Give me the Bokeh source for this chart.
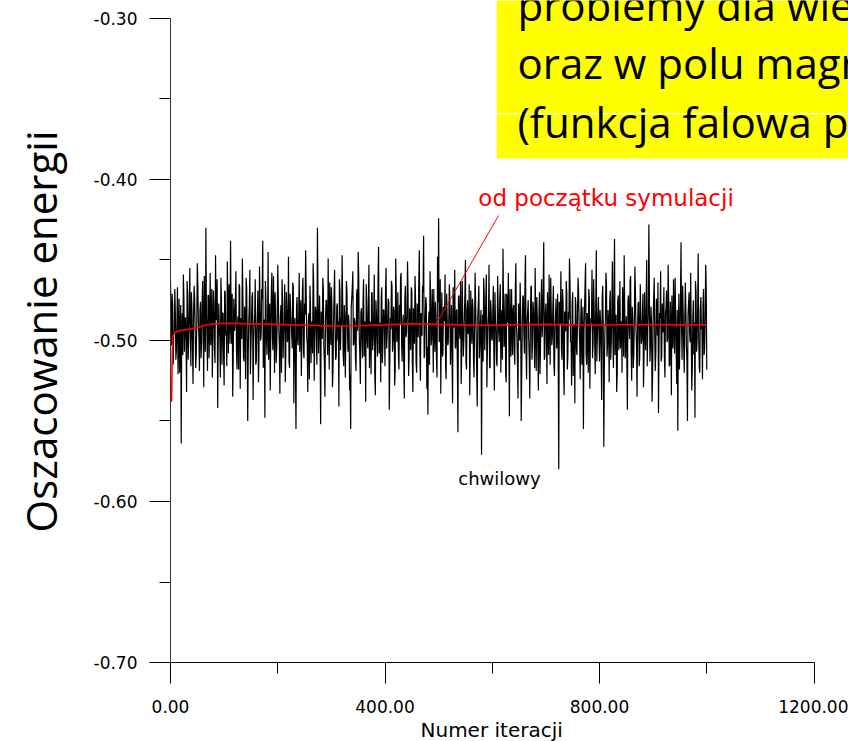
from bokeh.plotting import figure
from bokeh.models import (Range1d, FixedTicker, NumeralTickFormatter, Label,
                          BoxAnnotation, ColumnDataSource, Title)
from bokeh.embed import file_html
from bokeh.resources import INLINE

# ---------------- data ----------------
# instantaneous energy estimate ("chwilowy") at even iterations 0..1000
energy_even = [
    -0.462, -0.503, -0.478, -0.497, -0.468, -0.512, -0.489, -0.521, -0.474, -0.495,
    -0.564, -0.483, -0.459, -0.507, -0.486, -0.532, -0.471, -0.498, -0.455, -0.516,
    -0.481, -0.527, -0.466, -0.493, -0.509, -0.452, -0.488, -0.519, -0.476, -0.501,
    -0.463, -0.529, -0.484, -0.430, -0.496, -0.472, -0.511, -0.458, -0.491, -0.523,
    -0.469, -0.505, -0.447, -0.487, -0.542, -0.477, -0.499, -0.461, -0.515, -0.483,
    -0.528, -0.470, -0.494, -0.451, -0.508, -0.480, -0.438, -0.502, -0.535, -0.474,
    -0.492, -0.457, -0.518, -0.485, -0.465, -0.530, -0.497, -0.449, -0.510, -0.479,
    -0.524, -0.467, -0.550, -0.488, -0.456, -0.504, -0.473, -0.537, -0.490, -0.462,
    -0.513, -0.482, -0.526, -0.454, -0.500, -0.468, -0.438, -0.495, -0.548, -0.476,
    -0.509, -0.445, -0.486, -0.531, -0.471, -0.498, -0.460, -0.520, -0.484, -0.506,
    -0.453, -0.493, -0.533, -0.478, -0.462, -0.511, -0.489, -0.526, -0.470, -0.501,
    -0.448, -0.517, -0.481, -0.496, -0.464, -0.539, -0.486, -0.555, -0.473, -0.503,
    -0.458, -0.491, -0.522, -0.469, -0.507, -0.477, -0.444, -0.498, -0.532, -0.483,
    -0.466, -0.514, -0.488, -0.452, -0.525, -0.479, -0.499, -0.430, -0.508, -0.472,
    -0.552, -0.487, -0.461, -0.504, -0.535, -0.475, -0.494, -0.449, -0.518, -0.482,
    -0.467, -0.529, -0.490, -0.456, -0.512, -0.479, -0.500, -0.541, -0.470, -0.486,
    -0.447, -0.509, -0.478, -0.523, -0.463, -0.495, -0.484, -0.531, -0.555, -0.474,
    -0.457, -0.502, -0.489, -0.519, -0.468, -0.445, -0.497, -0.527, -0.480, -0.511,
    -0.462, -0.493, -0.538, -0.476, -0.505, -0.453, -0.488, -0.521, -0.471, -0.499,
    -0.459, -0.534, -0.483, -0.510, -0.442, -0.492, -0.526, -0.467, -0.503, -0.481,
    -0.516, -0.455, -0.497, -0.474, -0.543, -0.486, -0.463, -0.507, -0.479, -0.528,
    -0.449, -0.501, -0.470, -0.518, -0.490, -0.458, -0.513, -0.484, -0.536, -0.466,
    -0.495, -0.451, -0.522, -0.480, -0.506, -0.469, -0.532, -0.488, -0.460, -0.514,
    -0.477, -0.498, -0.444, -0.525, -0.485, -0.466, -0.435, -0.509, -0.473, -0.530,
    -0.546, -0.482, -0.457, -0.503, -0.468, -0.520, -0.491, -0.476, -0.512, -0.448,
    -0.424, -0.497, -0.533, -0.470, -0.508, -0.483, -0.459, -0.524, -0.487, -0.501,
    -0.465, -0.515, -0.478, -0.539, -0.492, -0.456, -0.505, -0.481, -0.557, -0.472,
    -0.499, -0.527, -0.463, -0.510, -0.486, -0.450, -0.518, -0.475, -0.494, -0.534,
    -0.469, -0.502, -0.480, -0.523, -0.458, -0.496, -0.541, -0.477, -0.511, -0.488,
    -0.571, -0.484, -0.461, -0.506, -0.473, -0.529, -0.490, -0.453, -0.517, -0.482,
    -0.500, -0.466, -0.531, -0.487, -0.513, -0.460, -0.495, -0.474, -0.520, -0.481,
    -0.443, -0.504, -0.471, -0.526, -0.489, -0.458, -0.547, -0.493, -0.468, -0.509,
    -0.478, -0.515, -0.452, -0.498, -0.536, -0.485, -0.464, -0.550, -0.491, -0.473,
    -0.508, -0.447, -0.524, -0.482, -0.499, -0.536, -0.467, -0.512, -0.476, -0.494,
    -0.455, -0.519, -0.486, -0.531, -0.470, -0.503, -0.462, -0.488, -0.439, -0.510,
    -0.477, -0.527, -0.492, -0.459, -0.515, -0.481, -0.498, -0.466, -0.522, -0.484,
    -0.505, -0.471, -0.580, -0.489, -0.457, -0.512, -0.476, -0.534, -0.494, -0.463,
    -0.518, -0.482, -0.449, -0.501, -0.528, -0.470, -0.496, -0.539, -0.478, -0.509,
    -0.461, -0.490, -0.524, -0.474, -0.507, -0.555, -0.483, -0.452, -0.515, -0.492,
    -0.468, -0.530, -0.486, -0.456, -0.502, -0.479, -0.521, -0.444, -0.497, -0.473,
    -0.513, -0.488, -0.537, -0.466, -0.566, -0.495, -0.458, -0.510, -0.481, -0.526,
    -0.469, -0.500, -0.451, -0.517, -0.437, -0.490, -0.532, -0.475, -0.506, -0.463,
    -0.496, -0.520, -0.480, -0.447, -0.511, -0.485, -0.543, -0.472, -0.499, -0.460,
    -0.525, -0.487, -0.508, -0.454, -0.493, -0.535, -0.477, -0.516, -0.465, -0.502,
    -0.484, -0.529, -0.470, -0.506, -0.450, -0.492, -0.428, -0.513, -0.479, -0.538,
    -0.488, -0.461, -0.519, -0.474, -0.497, -0.545, -0.483, -0.457, -0.510, -0.490,
    -0.467, -0.523, -0.480, -0.501, -0.453, -0.516, -0.476, -0.534, -0.494, -0.462,
    -0.508, -0.485, -0.527, -0.556, -0.471, -0.498, -0.439, -0.512, -0.482, -0.520,
    -0.464, -0.503, -0.550, -0.477, -0.495, -0.458, -0.531, -0.486, -0.509, -0.548,
    -0.470, -0.500, -0.446, -0.517, -0.481, -0.493, -0.524, -0.468, -0.505, -0.453,
    -0.518,
]
# instantaneous energy estimate at odd iterations 1..999
energy_odd = [
    -0.488, -0.471, -0.515, -0.494, -0.482, -0.506, -0.467, -0.499, -0.520, -0.478,
    -0.491, -0.509, -0.474, -0.486, -0.501, -0.463, -0.512, -0.480, -0.496, -0.470,
    -0.504, -0.485, -0.473, -0.517, -0.490, -0.466, -0.498, -0.481, -0.511, -0.476,
    -0.493, -0.460, -0.507, -0.484, -0.519, -0.472, -0.489, -0.503, -0.468, -0.495,
    -0.479, -0.514, -0.487, -0.462, -0.500, -0.491, -0.523, -0.475, -0.483, -0.508,
    -0.469, -0.497, -0.516, -0.480, -0.465, -0.502, -0.488, -0.471, -0.510, -0.494,
    -0.476, -0.505, -0.490, -0.518, -0.467, -0.486, -0.499, -0.473, -0.513, -0.482,
    -0.461, -0.496, -0.507, -0.478, -0.521, -0.489, -0.470, -0.502, -0.484, -0.515,
    -0.493, -0.469, -0.508, -0.480, -0.497, -0.474, -0.517, -0.487, -0.463, -0.501,
    -0.490, -0.512, -0.477, -0.495, -0.458, -0.506, -0.483, -0.470, -0.514, -0.488,
    -0.472, -0.503, -0.485, -0.520, -0.476, -0.494, -0.465, -0.509, -0.482, -0.498,
    -0.513, -0.471, -0.489, -0.505, -0.467, -0.492, -0.518, -0.479, -0.500, -0.486,
    -0.507, -0.475, -0.496, -0.461, -0.511, -0.484, -0.470, -0.502, -0.489, -0.524,
    -0.478, -0.493, -0.508, -0.466, -0.497, -0.481, -0.515, -0.473, -0.490, -0.504,
    -0.482, -0.499, -0.468, -0.514, -0.487, -0.475, -0.509, -0.492, -0.464, -0.503,
    -0.480, -0.519, -0.471, -0.495, -0.510, -0.477, -0.488, -0.462, -0.506, -0.491,
    -0.474, -0.516, -0.485, -0.498, -0.469, -0.507, -0.490, -0.521, -0.479, -0.467,
    -0.503, -0.486, -0.512, -0.472, -0.494, -0.460, -0.509, -0.483, -0.499, -0.476,
    -0.510, -0.488, -0.465, -0.501, -0.478, -0.517, -0.492, -0.470, -0.506, -0.484,
    -0.522, -0.475, -0.497, -0.463, -0.508, -0.489, -0.473, -0.514, -0.481, -0.495,
    -0.469, -0.505, -0.487, -0.476, -0.512, -0.493, -0.466, -0.500, -0.482, -0.518,
    -0.471, -0.496, -0.509, -0.478, -0.461, -0.503, -0.490, -0.515, -0.474, -0.498,
    -0.485, -0.472, -0.508, -0.491, -0.467, -0.513, -0.480, -0.502, -0.475, -0.520,
    -0.489, -0.464, -0.506, -0.483, -0.497, -0.470, -0.511, -0.486, -0.477, -0.504,
    -0.492, -0.515, -0.473, -0.499, -0.484, -0.468, -0.507, -0.490, -0.523, -0.476,
    -0.501, -0.462, -0.494, -0.510, -0.479, -0.488, -0.516, -0.471, -0.503, -0.485,
    -0.476, -0.497, -0.512, -0.467, -0.490, -0.504, -0.481, -0.518, -0.473, -0.495,
    -0.463, -0.509, -0.487, -0.500, -0.470, -0.514, -0.482, -0.496, -0.465, -0.508,
    -0.489, -0.474, -0.511, -0.493, -0.478, -0.520, -0.486, -0.466, -0.502, -0.481,
    -0.497, -0.513, -0.472, -0.490, -0.459, -0.505, -0.484, -0.517, -0.475, -0.499,
    -0.483, -0.508, -0.470, -0.494, -0.516, -0.479, -0.501, -0.465, -0.489, -0.512,
    -0.476, -0.498, -0.521, -0.471, -0.487, -0.503, -0.468, -0.510, -0.492, -0.480,
    -0.506, -0.469, -0.491, -0.514, -0.477, -0.500, -0.484, -0.519, -0.472, -0.496,
    -0.463, -0.508, -0.488, -0.475, -0.511, -0.493, -0.466, -0.502, -0.481, -0.517,
    -0.490, -0.473, -0.505, -0.486, -0.521, -0.478, -0.498, -0.467, -0.512, -0.483,
    -0.495, -0.470, -0.509, -0.488, -0.461, -0.503, -0.479, -0.515, -0.492, -0.474,
    -0.497, -0.512, -0.476, -0.489, -0.505, -0.468, -0.518, -0.482, -0.494, -0.471,
    -0.510, -0.487, -0.464, -0.501, -0.477, -0.522, -0.490, -0.473, -0.506, -0.484,
    -0.470, -0.502, -0.487, -0.515, -0.479, -0.495, -0.466, -0.508, -0.483, -0.520,
    -0.474, -0.497, -0.489, -0.511, -0.462, -0.500, -0.478, -0.513, -0.485, -0.496,
    -0.481, -0.507, -0.473, -0.494, -0.518, -0.486, -0.465, -0.503, -0.490, -0.476,
    -0.512, -0.480, -0.499, -0.469, -0.509, -0.484, -0.521, -0.472, -0.493, -0.505,
    -0.488, -0.467, -0.510, -0.482, -0.498, -0.514, -0.475, -0.491, -0.463, -0.506,
    -0.479, -0.517, -0.487, -0.470, -0.502, -0.492, -0.476, -0.511, -0.484, -0.500,
    -0.471, -0.509, -0.494, -0.478, -0.516, -0.485, -0.468, -0.503, -0.489, -0.522,
    -0.474, -0.497, -0.507, -0.480, -0.464, -0.501, -0.486, -0.513, -0.477, -0.495,
    -0.510, -0.483, -0.469, -0.499, -0.476, -0.515, -0.490, -0.472, -0.505, -0.487,
    -0.461, -0.508, -0.481, -0.496, -0.518, -0.474, -0.492, -0.466, -0.504, -0.488,
    -0.479, -0.512, -0.485, -0.470, -0.501, -0.493, -0.517, -0.475, -0.489, -0.463,
    -0.507, -0.482, -0.498, -0.520, -0.473, -0.491, -0.478, -0.509, -0.486, -0.467,
]

# running average since the start of the simulation ("od początku symulacji")
avg_iter = [2, 3, 4, 6, 9, 15, 25, 35, 50, 65, 85, 110, 150, 200, 250, 300,
            350, 400, 450, 500, 550, 600, 650, 700, 750, 800, 850, 900, 950, 1000]
avg_energy = [-0.538, -0.514, -0.498, -0.496, -0.495, -0.494, -0.4935, -0.493,
              -0.492, -0.4905, -0.4895, -0.4893, -0.4897, -0.4900, -0.4905,
              -0.4910, -0.4908, -0.4903, -0.4896, -0.4900, -0.4903, -0.4905,
              -0.4902, -0.4900, -0.4903, -0.4904, -0.4902, -0.4901, -0.4903,
              -0.4902]

x_major = [0, 400, 800, 1200]
x_minor = [200, 600, 1000]
y_major = [-0.70, -0.60, -0.50, -0.40, -0.30]
y_minor = [-0.65, -0.55, -0.45, -0.35]

x_title = "Numer iteracji"
y_title = "Oszacowanie energii"
label_avg = "od początku symulacji"
label_inst = "chwilowy"
box_lines = ["problemy dla wie", "oraz w polu magn", "(funkcja falowa p"]

# merge even / odd iterations into one series
energy_inst = []
for k in range(len(energy_odd)):
    energy_inst.append(energy_even[k])
    energy_inst.append(energy_odd[k])
energy_inst.append(energy_even[-1])
iterations = list(range(len(energy_inst)))

# ---------------- figure ----------------
p = figure(width=848, height=741, output_backend="svg", toolbar_location=None,
           x_range=Range1d(0, 1264.3), y_range=Range1d(-0.70, -0.28882),
           min_border_left=170, min_border_right=0, min_border_top=0,
           min_border_bottom=79)
p.outline_line_color = None
p.xgrid.visible = False
p.ygrid.visible = False
p.background_fill_color = "white"
p.border_fill_color = "white"

tick_font = "DejaVu Sans"

xa = p.xaxis[0]
xa.ticker = FixedTicker(ticks=x_major, minor_ticks=x_minor)
xa.formatter = NumeralTickFormatter(format="0.00")
xa.bounds = (0, 1200)
xa.major_tick_out = 21
xa.major_tick_in = 0
xa.minor_tick_out = 11
xa.minor_tick_in = 0
xa.major_label_standoff = 16
xa.major_label_text_font = tick_font
xa.major_label_text_font_size = "17px"
xa.major_label_text_color = "black"
xa.axis_line_color = "black"
xa.major_tick_line_color = "black"
xa.minor_tick_line_color = "black"

ya = p.yaxis[0]
ya.ticker = FixedTicker(ticks=y_major, minor_ticks=y_minor)
ya.formatter = NumeralTickFormatter(format="0.00")
ya.bounds = (-0.70, -0.30)
ya.major_tick_out = 21
ya.major_tick_in = 0
ya.minor_tick_out = 11
ya.minor_tick_in = 0
ya.major_label_standoff = 12
ya.major_label_text_font = tick_font
ya.major_label_text_font_size = "17px"
ya.major_label_text_color = "black"
ya.axis_line_color = "#333333"
ya.major_tick_line_color = "black"
ya.minor_tick_line_color = "black"
ya.axis_label = y_title
ya.axis_label_text_font = "Open Sans"
ya.axis_label_text_font_style = "normal"
ya.axis_label_text_font_size = "42px"
ya.axis_label_text_color = "black"
ya.axis_label_standoff = 22

# x-axis title, placed below the axis and shifted like in the original
p.add_layout(Title(text=x_title, align="left", offset=250, standoff=0,
                   text_font=tick_font, text_font_size="20px",
                   text_font_style="normal", text_color="black"), "below")

# data lines
src_inst = ColumnDataSource(dict(x=iterations, y=energy_inst))
src_avg = ColumnDataSource(dict(x=avg_iter, y=avg_energy))
p.line("x", "y", source=src_inst, line_color="black", line_width=1.2)
p.line("x", "y", source=src_avg, line_color="#ff0000", line_width=1.6)

# leader line from the red label to the running average
p.segment(x0=[611.7], y0=[-0.4224], x1=[496.0], y1=[-0.4894],
          line_color="#ff0000", line_width=1)

p.add_layout(Label(x=574, y=-0.4112, text=label_avg, text_color="#ff0000",
                   text_font=tick_font, text_font_size="23px",
                   text_align="left", text_baseline="middle"))
p.add_layout(Label(x=613.5, y=-0.5857, text=label_inst, text_color="black",
                   text_font=tick_font, text_font_size="18px",
                   text_align="center", text_baseline="middle"))

# yellow callout box (cut by the right/top edges)
p.add_layout(BoxAnnotation(left=608.4, bottom=-0.3870, fill_color="#ffff00",
                           fill_alpha=1.0, line_color=None))
p.add_layout(BoxAnnotation(left=608.4, bottom=-0.3594, top=-0.3588,
                           fill_color="white", fill_alpha=1.0, line_color=None))
for txt, yb in zip(box_lines, [-0.29130, -0.32733, -0.36397]):
    p.add_layout(Label(x=647, y=yb, text=txt, text_color="black",
                       text_font="Open Sans", text_font_size="42px",
                       text_align="left", text_baseline="alphabetic"))

open("out.html", "w").write(file_html(p, INLINE))
